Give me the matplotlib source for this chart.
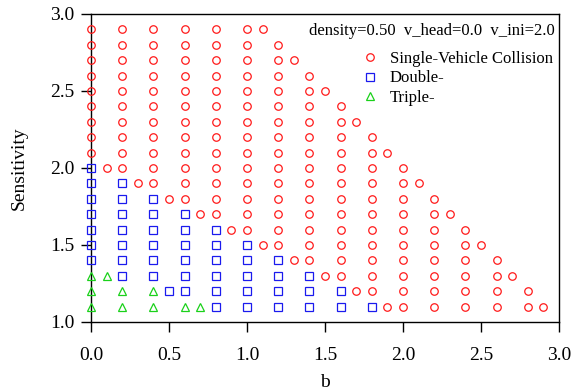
import matplotlib
matplotlib.use("Agg")
import matplotlib.pyplot as plt

plt.rcParams['font.family'] = ['Liberation Serif', 'DejaVu Serif']
plt.rcParams['mathtext.fontset'] = 'stix'

# Sensitivity levels (rows) and the b values present in each row, per collision type
sens_levels = [2.9, 2.8, 2.7, 2.6, 2.5, 2.4, 2.3, 2.2, 2.1, 2.0,
               1.9, 1.8, 1.7, 1.6, 1.5, 1.4, 1.3, 1.2, 1.1]

single_b = [
    [0.0, 0.2, 0.4, 0.6, 0.8, 1.0, 1.1],
    [0.0, 0.2, 0.4, 0.6, 0.8, 1.0, 1.2],
    [0.0, 0.2, 0.4, 0.6, 0.8, 1.0, 1.2, 1.3],
    [0.0, 0.2, 0.4, 0.6, 0.8, 1.0, 1.2, 1.4],
    [0.0, 0.2, 0.4, 0.6, 0.8, 1.0, 1.2, 1.4, 1.5],
    [0.0, 0.2, 0.4, 0.6, 0.8, 1.0, 1.2, 1.4, 1.6],
    [0.0, 0.2, 0.4, 0.6, 0.8, 1.0, 1.2, 1.4, 1.6, 1.7],
    [0.0, 0.2, 0.4, 0.6, 0.8, 1.0, 1.2, 1.4, 1.6, 1.8],
    [0.0, 0.2, 0.4, 0.6, 0.8, 1.0, 1.2, 1.4, 1.6, 1.8, 1.9],
    [0.1, 0.2, 0.4, 0.6, 0.8, 1.0, 1.2, 1.4, 1.6, 1.8, 2.0],
    [0.3, 0.4, 0.6, 0.8, 1.0, 1.2, 1.4, 1.6, 1.8, 2.0, 2.1],
    [0.5, 0.6, 0.8, 1.0, 1.2, 1.4, 1.6, 1.8, 2.0, 2.2],
    [0.7, 0.8, 1.0, 1.2, 1.4, 1.6, 1.8, 2.0, 2.2, 2.3],
    [0.9, 1.0, 1.2, 1.4, 1.6, 1.8, 2.0, 2.2, 2.4],
    [1.1, 1.2, 1.4, 1.6, 1.8, 2.0, 2.2, 2.4, 2.5],
    [1.3, 1.4, 1.6, 1.8, 2.0, 2.2, 2.4, 2.6],
    [1.5, 1.6, 1.8, 2.0, 2.2, 2.4, 2.6, 2.7],
    [1.7, 1.8, 2.0, 2.2, 2.4, 2.6, 2.8],
    [1.9, 2.0, 2.2, 2.4, 2.6, 2.8, 2.9],
]

double_b = [
    [], [], [], [], [], [], [], [], [],
    [0.0],
    [0.0, 0.2],
    [0.0, 0.2, 0.4],
    [0.0, 0.2, 0.4, 0.6],
    [0.0, 0.2, 0.4, 0.6, 0.8],
    [0.0, 0.2, 0.4, 0.6, 0.8, 1.0],
    [0.0, 0.2, 0.4, 0.6, 0.8, 1.0, 1.2],
    [0.2, 0.4, 0.6, 0.8, 1.0, 1.2, 1.4],
    [0.5, 0.6, 0.8, 1.0, 1.2, 1.4, 1.6],
    [0.8, 1.0, 1.2, 1.4, 1.6, 1.8],
]

triple_b = [
    [], [], [], [], [], [], [], [], [], [], [], [], [], [], [], [],
    [0.0, 0.1],
    [0.0, 0.2, 0.4],
    [0.0, 0.2, 0.4, 0.6, 0.7],
]

series_labels = ["Single-Vehicle Collision", "Double-", "Triple-"]
annotation = "density=0.50  v_head=0.0  v_ini=2.0"


def flatten(rows):
    xs, ys = [], []
    for s, row in zip(sens_levels, rows):
        for b in row:
            xs.append(b)
            ys.append(s)
    return xs, ys


fig = plt.figure(figsize=(5.73, 3.92), dpi=100)
ax = fig.add_axes([0.1588, 0.1786, 0.8168, 0.7857])

styles = [
    dict(marker='o', color='#ff1a1a', ms=5.4),
    dict(marker='s', color='#1a1aee', ms=5.9),
    dict(marker='^', color='#1ad11a', ms=5.8),
]
for rows, lab, st in zip([single_b, double_b, triple_b], series_labels, styles):
    xs, ys = flatten(rows)
    ax.plot(xs, ys, linestyle='none', marker=st['marker'], markersize=st['ms'],
            markerfacecolor='none', markeredgecolor=st['color'],
            markeredgewidth=0.9, label=lab, clip_on=False, zorder=3)

ax.set_xlim(0, 3)
ax.set_ylim(1, 3)
ax.set_xticks([0.0, 0.5, 1.0, 1.5, 2.0, 2.5, 3.0])
ax.set_yticks([1.0, 1.5, 2.0, 2.5, 3.0])
ax.xaxis.set_major_formatter(matplotlib.ticker.FormatStrFormatter('%.1f'))
ax.yaxis.set_major_formatter(matplotlib.ticker.FormatStrFormatter('%.1f'))
ax.tick_params(direction='out', length=7, width=1.0, labelsize=14, pad=5,
               top=False, right=False)
ax.tick_params(axis='x', pad=11)
for sp in ax.spines.values():
    sp.set_linewidth(1.0)

ax.set_xlabel('b', fontsize=14, labelpad=7)
ax.set_ylabel('Sensitivity', fontsize=14, labelpad=16)

ax.text(0.99, 0.945, annotation, transform=ax.transAxes, ha='right', va='center',
        fontsize=12)

leg = ax.legend(loc='upper right', bbox_to_anchor=(1.008, 0.912), frameon=False,
                fontsize=12, handletextpad=0.6, labelspacing=0.2,
                borderaxespad=0.2, handlelength=1.2, markerscale=1.0)

fig.savefig('out.png', dpi=100)
